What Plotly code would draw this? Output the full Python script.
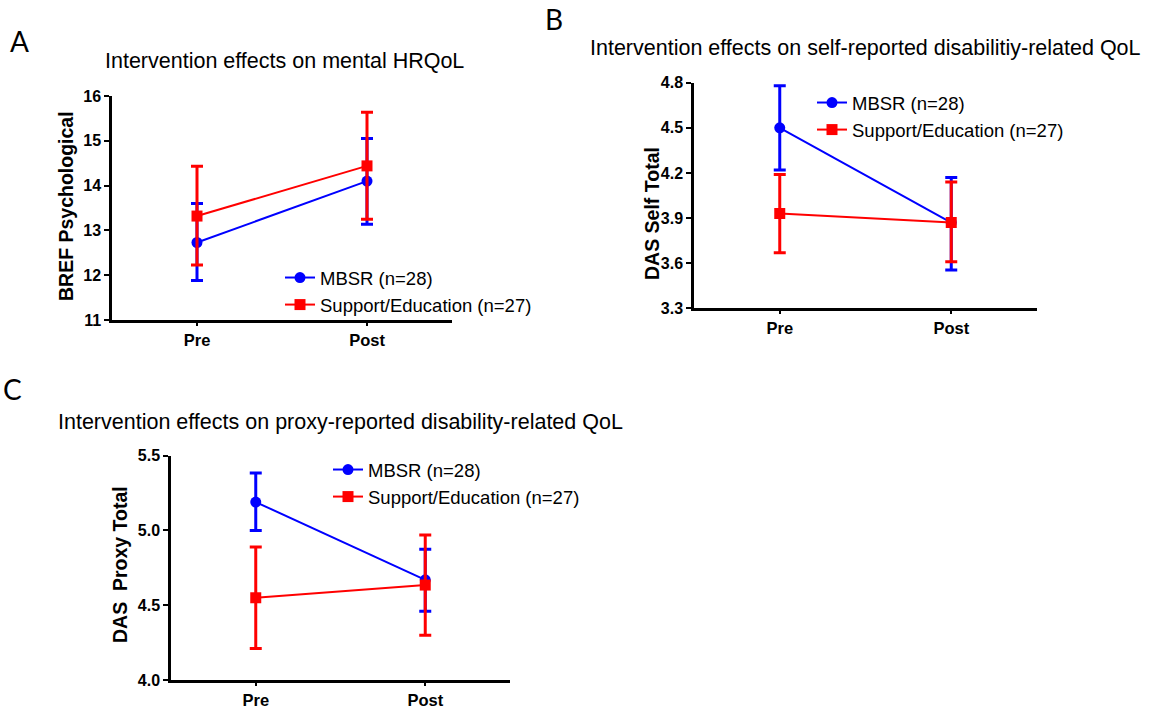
import plotly.graph_objects as go

categories = ["Pre", "Post"]

# Panel A: BREF Psychological
a_mbsr = [12.73, 14.10]
a_mbsr_hi = [13.60, 15.05]
a_mbsr_lo = [11.88, 13.14]
a_sup = [13.32, 14.44]
a_sup_hi = [14.43, 15.64]
a_sup_lo = [12.23, 13.25]

# Panel B: DAS Self Total
b_mbsr = [4.50, 3.87]
b_mbsr_hi = [4.78, 4.17]
b_mbsr_lo = [4.22, 3.555]
b_sup = [3.93, 3.87]
b_sup_hi = [4.19, 4.14]
b_sup_lo = [3.67, 3.61]

# Panel C: DAS Proxy Total
c_mbsr = [5.19, 4.67]
c_mbsr_hi = [5.385, 4.875]
c_mbsr_lo = [5.00, 4.46]
c_sup = [4.55, 4.635]
c_sup_hi = [4.89, 4.97]
c_sup_lo = [4.21, 4.30]

series_names = ["MBSR (n=28)", "Support/Education (n=27)"]
BLUE = "#0000FF"
RED = "#FF0000"
FONT = "Liberation Sans, Arial, sans-serif"

fig = go.Figure()

def add_pair(xa, ya, legend, m, mhi, mlo, s, shi, slo):
    for name, vals, hi, lo, color, sym in [
        (series_names[0], m, mhi, mlo, BLUE, "circle"),
        (series_names[1], s, shi, slo, RED, "square"),
    ]:
        fig.add_trace(go.Scatter(
            x=categories, y=vals, name=name, mode="lines+markers",
            xaxis=xa, yaxis=ya, legend=legend, legendgroup=legend + name,
            line=dict(color=color, width=2),
            marker=dict(color=color, symbol=sym, size=11),
            error_y=dict(type="data", symmetric=False,
                         array=[h - v for h, v in zip(hi, vals)],
                         arrayminus=[v - l for v, l in zip(vals, lo)],
                         color=color, thickness=3, width=6),
        ))

add_pair("x", "y", "legend", a_mbsr, a_mbsr_hi, a_mbsr_lo, a_sup, a_sup_hi, a_sup_lo)
add_pair("x2", "y2", "legend2", b_mbsr, b_mbsr_hi, b_mbsr_lo, b_sup, b_sup_hi, b_sup_lo)
add_pair("x3", "y3", "legend3", c_mbsr, c_mbsr_hi, c_mbsr_lo, c_sup, c_sup_hi, c_sup_lo)

W, H = 1154, 708

def fx(p):
    return p / W

def fy(p):
    return 1 - p / H

def xd(a, b):
    return [fx(a), fx(b)]

def yd(top, bottom):
    return [fy(bottom), fy(top)]

xcommon = dict(type="category", range=[-0.5, 1.5], showline=True, linecolor="black",
               linewidth=2.5, ticks="outside", ticklen=3, tickwidth=2, tickcolor="black",
               showgrid=False, zeroline=False, automargin=False,
               tickfont=dict(family=FONT, size=16.5, color="black", weight="bold"))
ycommon = dict(showline=True, linecolor="black", linewidth=2.5, ticks="outside",
               ticklen=5, tickwidth=2, tickcolor="black", showgrid=False, zeroline=False,
               automargin=False,
               tickfont=dict(family=FONT, size=16, color="black", weight="bold"))

legcommon = dict(font=dict(family=FONT, size=18.5, color="black"), bgcolor="rgba(0,0,0,0)",
                 xanchor="left", yanchor="top", traceorder="grouped", tracegroupgap=0)

fig.update_layout(
    width=W, height=H, margin=dict(l=0, r=0, t=0, b=0, autoexpand=False),
    paper_bgcolor="white", plot_bgcolor="white", showlegend=True,
    xaxis=dict(xcommon, domain=xd(112, 452), anchor="y"),
    yaxis=dict(ycommon, domain=yd(96, 320), anchor="x", range=[11, 16], dtick=1, tick0=11),
    xaxis2=dict(xcommon, domain=xd(694, 1037), anchor="y2"),
    yaxis2=dict(ycommon, domain=yd(82.7, 308.3), anchor="x2", range=[3.3, 4.8], dtick=0.3,
                tick0=3.3, tickformat=".1f"),
    xaxis3=dict(xcommon, domain=xd(171, 510), anchor="y3"),
    yaxis3=dict(ycommon, domain=yd(455.7, 680), anchor="x3", range=[4.0, 5.5], dtick=0.5,
                tick0=4.0, tickformat=".1f"),
    legend=dict(legcommon, x=fx(280), y=fy(259)),
    legend2=dict(legcommon, x=fx(812), y=fy(84)),
    legend3=dict(legcommon, x=fx(328), y=fy(451)),
)

annots = [
    # panel letters
    dict(text="A", x=19, y=41, size=28, fam="Lato, Open Sans, sans-serif", angle=0, bold=False),
    dict(text="B", x=554, y=19, size=28, fam="Lato, Open Sans, sans-serif", angle=0, bold=False),
    dict(text="C", x=12, y=389, size=28, fam="Lato, Open Sans, sans-serif", angle=0, bold=False),
    # titles
    dict(text="Intervention effects on mental HRQoL", x=284, y=61, size=21.5, fam=FONT, angle=0, bold=False),
    dict(text="Intervention effects on self-reported disabilitiy-related QoL", x=865, y=48, size=21.5, fam=FONT, angle=0, bold=False),
    dict(text="Intervention effects on proxy-reported disability-related QoL", x=340, y=422, size=21.5, fam=FONT, angle=0, bold=False),
    # y-axis titles
    dict(text="BREF Psychological", x=66, y=206, size=19.5, fam=FONT, angle=-90, bold=True),
    dict(text="DAS Self Total", x=652, y=214, size=19.5, fam=FONT, angle=-90, bold=True),
    dict(text="DAS  Proxy Total", x=120, y=565, size=19.5, fam=FONT, angle=-90, bold=True),
]
for a in annots:
    fig.add_annotation(
        text=("<b>%s</b>" % a["text"]) if a["bold"] else a["text"],
        x=fx(a["x"]), y=fy(a["y"]), xref="paper", yref="paper", showarrow=False,
        xanchor="center", yanchor="middle", textangle=a["angle"],
        font=dict(family=a["fam"], size=a["size"], color="black"),
    )

# remove the default 8px page margin so the figure fills the window exactly
fig.write_html("out.html", config={"displayModeBar": False},
               post_script="document.body.style.margin='0px';")
